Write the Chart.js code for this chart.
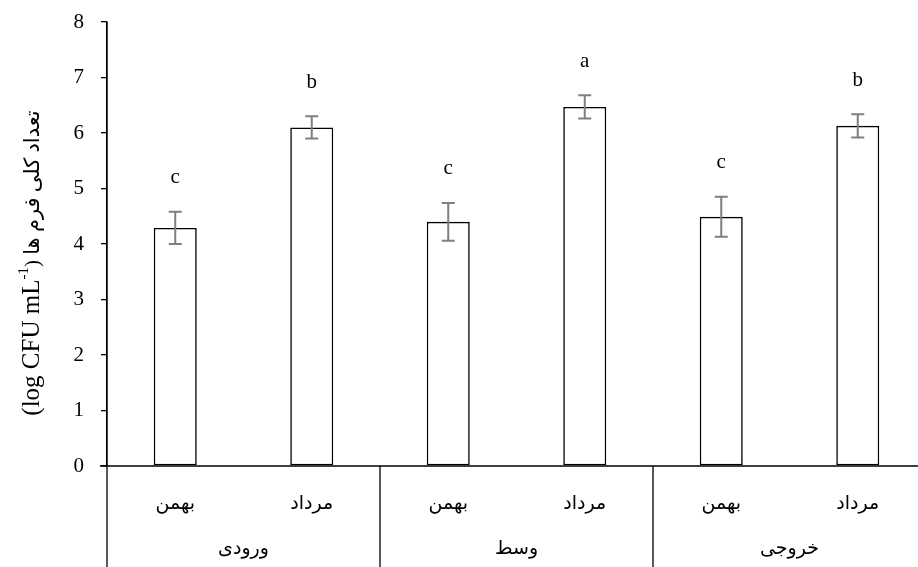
<!DOCTYPE html>
<html>
<head>
<meta charset="utf-8">
<script src="https://cdn.jsdelivr.net/npm/chart.js@4"></script>
<style>
html,body{margin:0;padding:0;background:#fff;overflow:hidden;}
#wrap{width:926px;height:567px;}
</style>
</head>
<body>
<div id="wrap"><canvas id="c" width="926" height="567"></canvas></div>
<script>
// ---- data ----
const groups = ['ورودی', 'وسط', 'خروجی'];
const months = ['بهمن', 'مرداد'];
const means = [4.29, 6.10, 4.40, 6.47, 4.49, 6.13];
const errors = [0.29, 0.20, 0.34, 0.21, 0.36, 0.21];
const letters = ['c', 'b', 'c', 'a', 'c', 'b'];
const yTicks = [0, 1, 2, 3, 4, 5, 6, 7, 8];

const labels = [];
groups.forEach(g => months.forEach(m => labels.push(m)));

const SERIF = '"Liberation Serif", "Times New Roman", "DejaVu Sans", serif';

const extras = {
  id: 'extras',
  afterDatasetsDraw(chart) {
    const ctx = chart.ctx;
    const x = chart.scales.x, y = chart.scales.y;
    const area = chart.chartArea;
    ctx.save();
    // error bars
    ctx.strokeStyle = '#7f7f7f';
    ctx.lineWidth = 2;
    means.forEach((m, i) => {
      const px = x.getPixelForValue(i);
      const top = y.getPixelForValue(m + errors[i]);
      const bot = y.getPixelForValue(m - errors[i]);
      ctx.beginPath();
      ctx.moveTo(px, top); ctx.lineTo(px, bot);
      ctx.moveTo(px - 6.5, top); ctx.lineTo(px + 6.5, top);
      ctx.moveTo(px - 6.5, bot); ctx.lineTo(px + 6.5, bot);
      ctx.stroke();
      // letters
      ctx.fillStyle = '#000';
      ctx.font = '21px ' + SERIF;
      ctx.textAlign = 'center';
      ctx.textBaseline = 'middle';
      ctx.fillText(letters[i], px, top - 34);
    });
    // axis extensions & group separators
    ctx.strokeStyle = '#000';
    ctx.lineWidth = 1.3;
    const step = x.getPixelForValue(1) - x.getPixelForValue(0);
    ctx.beginPath();
    ctx.moveTo(area.left, area.top); ctx.lineTo(area.left, chart.height);
    for (let g = 1; g < groups.length; g++) {
      const sx = x.getPixelForValue(g * months.length) - step / 2;
      ctx.moveTo(sx, area.bottom); ctx.lineTo(sx, chart.height);
    }
    ctx.moveTo(area.left - 7, area.bottom); ctx.lineTo(area.right, area.bottom);
    ctx.stroke();
    // group labels
    ctx.fillStyle = '#000';
    ctx.font = '19px ' + SERIF;
    ctx.textAlign = 'center';
    ctx.textBaseline = 'middle';
    groups.forEach((g, gi) => {
      const a = x.getPixelForValue(gi * months.length);
      const b = x.getPixelForValue(gi * months.length + months.length - 1);
      ctx.fillText(g, (a + b) / 2, 549);
    });
    // y axis title (rotated)
    ctx.translate(31, 263);
    ctx.rotate(-Math.PI / 2);
    const p1 = '(log CFU mL', p2 = '-1', p3 = ') تعداد کلی فرم ها';
    ctx.textAlign = 'left';
    ctx.textBaseline = 'alphabetic';
    ctx.font = '25px ' + SERIF;
    const w1 = ctx.measureText(p1).width;
    ctx.font = '21px ' + SERIF;
    const w3 = ctx.measureText(p3).width;
    ctx.font = '15px ' + SERIF;
    const w2 = ctx.measureText(p2).width;
    let sx = -(w1 + w2 + w3) / 2;
    ctx.font = '25px ' + SERIF;
    ctx.fillText(p1, sx, 8); sx += w1;
    ctx.font = '15px ' + SERIF;
    ctx.fillText(p2, sx, -3); sx += w2;
    ctx.font = '21px ' + SERIF;
    ctx.fillText(p3, sx, 8);
    ctx.restore();
  }
};

new Chart(document.getElementById('c'), {
  type: 'bar',
  data: {
    labels: labels,
    datasets: [{
      data: means,
      backgroundColor: '#ffffff',
      borderColor: '#000000',
      borderWidth: 1.6,
      borderSkipped: false,
      categoryPercentage: 1,
      barPercentage: 0.315
    }]
  },
  options: {
    responsive: false,
    animation: false,
    devicePixelRatio: 1,
    layout: { padding: { top: 22, right: 0, left: 0, bottom: 0 } },
    plugins: { legend: { display: false }, tooltip: { enabled: false } },
    scales: {
      x: {
        grid: { display: false, drawTicks: false },
        border: { display: false },
        ticks: {
          color: '#000',
          font: { family: SERIF, size: 19 },
          padding: 27,
          maxRotation: 0,
          autoSkip: false
        },
        afterFit(s) { s.height = 101; s.paddingLeft = 0; s.paddingRight = 0; }
      },
      y: {
        min: 0, max: 8,
        afterBuildTicks(s) { s.ticks = yTicks.map(v => ({ value: v })); },
        grid: { drawOnChartArea: false, drawTicks: true, tickLength: 6, color: '#000', lineWidth: 1.3 },
        border: { display: true, color: '#000', width: 1.3 },
        ticks: {
          color: '#000',
          font: { family: SERIF, size: 21 },
          padding: 17
        },
        afterFit(s) { s.width = 107; s.paddingTop = 0; s.paddingBottom = 0; }
      }
    }
  },
  plugins: [extras]
});
</script>
</body>
</html>
